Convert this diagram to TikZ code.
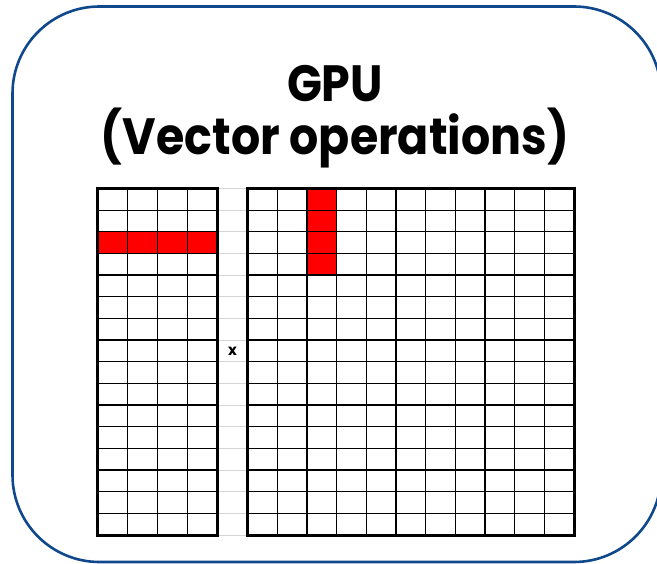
\documentclass[tikz,border=0pt]{standalone}
\usepackage{fontspec}
\setmainfont{Poppins}
\definecolor{frameblue}{RGB}{16,72,140}
\definecolor{gapgray}{RGB}{212,212,212}
\definecolor{cellred}{RGB}{255,0,0}
\newcommand{\narrowtitle}[1]{\scalebox{0.9}[1]{#1}}
\tikzset{
  frame/.style={draw=frameblue, line width=2.6pt, rounded corners=87pt},
  innerline/.style={draw=black, line width=1.3pt},
  outerline/.style={draw=black, line width=3pt},
  gapline/.style={draw=gapgray, line width=1pt},
  titletext/.style={font=\fontsize{51}{60}\selectfont\bfseries, anchor=base, inner sep=0pt},
  optext/.style={font=\fontsize{15}{17}\selectfont\bfseries, inner sep=0pt}
}
\begin{document}
\begin{tikzpicture}[x=1pt,y=-1pt]
\useasboundingbox (0,0) rectangle (657,564);
\clip (0,0) rectangle (657,564);

% outer rounded panel
\draw[frame] (12.5,6.5) rectangle (661,562);

% title
\node[titletext] (gpu) at (335,102) {\narrowtitle{GPU}};
\node[titletext] (sub) at (335,155) {\narrowtitle{(Vector operations)}};

% grid geometry
\def\rowh{21.66}
\def\top{188.5}
\def\bot{535}
\def\lx{97.5}   \def\lw{30}
\def\rx{247.5}  \def\rw{29.7}

% red cells: a row of the left matrix, a column of the right matrix
\fill[cellred] (\lx,\top+2*\rowh) rectangle (\lx+4*\lw,\top+3*\rowh);
\fill[cellred] (\rx+2*\rw,\top) rectangle (\rx+3*\rw,\top+4*\rowh);

% light rules in the gap between the matrices
\foreach \i in {0,...,16}
  \draw[gapline] (\lx+4*\lw,\top+\i*\rowh) -- (\rx,\top+\i*\rowh);

% left matrix: 4 columns x 16 rows
\foreach \i in {1,...,15}
  \draw[innerline] (\lx,\top+\i*\rowh) -- (\lx+4*\lw,\top+\i*\rowh);
\foreach \j in {1,...,3}
  \draw[innerline] (\lx+\j*\lw,\top) -- (\lx+\j*\lw,\bot);
\draw[outerline] (\lx,\top) rectangle (\lx+4*\lw,\bot);

% right matrix: 11 columns x 16 rows
\foreach \i in {1,...,15}
  \draw[innerline] (\rx,\top+\i*\rowh) -- (\rx+11*\rw,\top+\i*\rowh);
\foreach \j in {1,...,10}
  \draw[innerline] (\rx+\j*\rw,\top) -- (\rx+\j*\rw,\bot);
\draw[outerline] (\rx,\top) rectangle (\rx+11*\rw,\bot);

% multiplication sign
\node[optext] (times) at (232.5,351) {x};
\end{tikzpicture}
\end{document}
